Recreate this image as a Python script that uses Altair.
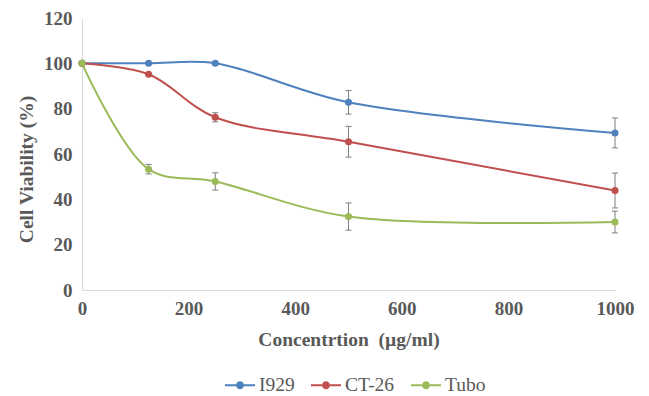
import altair as alt
import pandas as pd

conc = [0, 125, 250, 500, 1000]
series_names = ["I929", "CT-26", "Tubo"]
i929 = [100, 100, 100, 82.8, 69.3]
i929_err = [0, 0, 0, 5.2, 6.6]
ct26 = [100, 95.2, 76.2, 65.4, 43.9]
ct26_err = [0, 0, 2.0, 6.8, 7.7]
tubo = [100, 53.3, 47.9, 32.4, 30.0]
tubo_err = [0, 2.1, 3.8, 6.0, 4.8]
colors = ["#4F81BD", "#C0504D", "#9BBB59"]

rows = []
for name, vals, errs in zip(series_names, [i929, ct26, tubo], [i929_err, ct26_err, tubo_err]):
    for c, v, e in zip(conc, vals, errs):
        rows.append({"series": name, "conc": c, "val": v, "err": e, "lo": v - e, "hi": v + e})
df = pd.DataFrame(rows)
err_df = df[df["err"] > 0]

FONT = "Liberation Serif"
LABEL_COLOR = "#595959"

x_enc = alt.X("conc:Q", scale=alt.Scale(domain=[0, 1000], nice=False),
              axis=alt.Axis(values=[0, 200, 400, 600, 800, 1000], format="d",
                            title="Concentrtion\u00a0 (µg/ml)", labelFlush=False,
                            ticks=False, grid=False, labelPadding=9, titlePadding=12))
y_enc = alt.Y("val:Q", scale=alt.Scale(domain=[0, 120], nice=False),
              axis=alt.Axis(values=[0, 20, 40, 60, 80, 100, 120], title="Cell Viability (%)",
                            labelFlush=False, titleY=151,
                            ticks=False, grid=False, labelPadding=10, titlePadding=7))
color_scale = alt.Scale(domain=series_names, range=colors)

legend_path = ("M -1 -0.07 L -0.27 -0.07 L -0.27 0.07 L -1 0.07 Z "
               "M 0.27 -0.07 L 1 -0.07 L 1 0.07 L 0.27 0.07 Z "
               "M -0.27 0 A 0.27 0.27 0 1 1 0.27 0 A 0.27 0.27 0 1 1 -0.27 0 Z")

legend = alt.Legend(title=None, orient="none", direction="horizontal",
                    legendX=143, legendY=352,
                    symbolType=legend_path, symbolSize=900,
                    symbolStrokeWidth=0, symbolOpacity=1,
                    labelFont=FONT, labelFontSize=19.5, labelColor=LABEL_COLOR,
                    labelFontWeight="normal",
                    labelOffset=4, columnPadding=16)
color_enc = alt.Color("series:N", scale=color_scale, legend=legend)

base = alt.Chart(df)

lines = base.mark_line(interpolate="catmull-rom", strokeWidth=2).encode(
    x=x_enc, y=y_enc, color=color_enc, detail="series:N",
)

errs = alt.Chart(err_df).mark_rule(color="#7F7F7F", strokeWidth=1).encode(
    x="conc:Q", y="lo:Q", y2="hi:Q"
)
caps_lo = alt.Chart(err_df).mark_rule(color="#7F7F7F", strokeWidth=1, xOffset=-3, x2Offset=3).encode(
    x="conc:Q", x2="conc:Q", y="lo:Q", y2="lo:Q"
)
caps_hi = alt.Chart(err_df).mark_rule(color="#7F7F7F", strokeWidth=1, xOffset=-3, x2Offset=3).encode(
    x="conc:Q", x2="conc:Q", y="hi:Q", y2="hi:Q"
)

points = base.mark_point(filled=True, size=50, opacity=1).encode(
    x="conc:Q", y="val:Q", color=color_enc,
)

chart = alt.layer(lines, errs, caps_lo, caps_hi, points).properties(
    width=533, height=272,
    autosize=alt.AutoSizeParams(type="none"),
    padding={"left": 82, "top": 18, "right": 34, "bottom": 106},
).configure(background="white").configure_view(stroke=None).configure_axis(
    domainColor="#D9D9D9", domainWidth=1,
    labelFont=FONT, labelFontSize=19, labelFontWeight="bold", labelColor=LABEL_COLOR,
    titleFont=FONT, titleFontSize=19.5, titleFontWeight="bold", titleColor=LABEL_COLOR,
)

chart.save("out.html", embed_options={"renderer": "svg", "actions": False})
